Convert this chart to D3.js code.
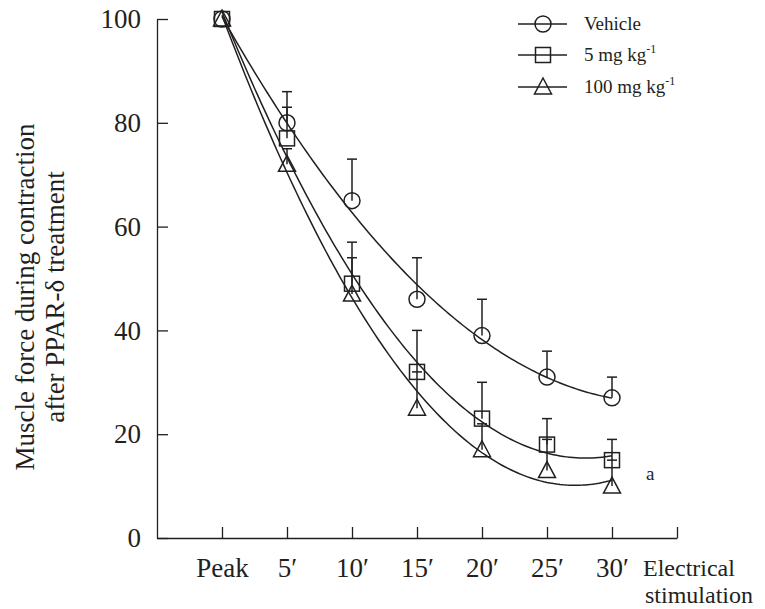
<!DOCTYPE html>
<html>
<head>
<meta charset="utf-8">
<script src="https://cdn.jsdelivr.net/npm/d3@7"></script>
<style>
  html, body { margin: 0; padding: 0; background: #fff; }
  svg { display: block; }
  text { font-family: "Liberation Serif", "DejaVu Serif", serif; fill: #231f20; }
</style>
</head>
<body>
<svg id="chart" width="765" height="609"></svg>
<script>
// ---- data ----
const categories = ["Peak", "5′", "10′", "15′", "20′", "25′", "30′"];
const vehicle      = [100, 80, 65, 46, 39, 31, 27];
const vehicleErr   = [0, 6, 8, 8, 7, 5, 4];
const dose5        = [100, 77, 49, 32, 23, 18, 15];
const dose5Err     = [0, 6, 8, 8, 7, 5, 4];
const dose100      = [100, 72, 47, 25, 17, 13, 10];
const dose100Err   = [0, 3, 7, 7, 5, 6, 5];
const yTicks = [0, 20, 40, 60, 80, 100];
const seriesNames = ["Vehicle", "5 mg kg", "100 mg kg"];

const ink = "#231f20";
const svg = d3.select("#chart");

const x = d3.scaleLinear().domain([0, 8]).range([157, 677]);
const y = d3.scaleLinear().domain([0, 100]).range([538, 19]);

// ---- axes ----
const yAxis = d3.axisLeft(y).tickValues(yTicks).tickSize(-11).tickSizeOuter(0).tickPadding(16);
const gy = svg.append("g").attr("transform", `translate(${x(0)},0)`).call(yAxis);
gy.selectAll("text").style("font-size", "27px").attr("fill", ink);

const xTickVals = d3.range(1, 9);
const xAxis = d3.axisBottom(x).tickValues(xTickVals).tickSize(-11).tickSizeOuter(0).tickPadding(20)
  .tickFormat(d => categories[d - 1] || "");
const gx = svg.append("g").attr("transform", `translate(0,${y(0)})`).call(xAxis);
gx.selectAll("text").style("font-size", "27px").attr("fill", ink);

[gx, gy].forEach(g => {
  g.select(".domain").attr("stroke", ink).attr("stroke-width", 1.3);
  g.selectAll(".tick line").attr("stroke", ink).attr("stroke-width", 1.3);
});

svg.append("text").attr("x", 643).attr("y", 576).style("font-size", "24px").text("Electrical");
svg.append("text").attr("x", 753).attr("y", 603).attr("text-anchor", "end").style("font-size", "24px").text("stimulation");

// y title
const yt = svg.append("g").attr("transform", "translate(0,297) rotate(-90)");
yt.append("text").attr("x", 0).attr("y", 25).attr("dy", "0.35em").attr("text-anchor", "middle")
  .style("font-size", "27px").text("Muscle force during contraction");
yt.append("text").attr("x", 0).attr("y", 55).attr("dy", "0.35em").attr("text-anchor", "middle")
  .style("font-size", "27px").text("after PPAR-δ treatment");

// ---- quadratic least squares fit ----
function quadFit(vals) {
  const xs = vals.map((v, i) => i + 1);
  let S = [0,0,0,0,0], T = [0,0,0];
  xs.forEach((xi, i) => {
    for (let k = 0; k < 5; k++) S[k] += Math.pow(xi, k);
    for (let k = 0; k < 3; k++) T[k] += Math.pow(xi, k) * vals[i];
  });
  const A = [[S[0],S[1],S[2],T[0]],[S[1],S[2],S[3],T[1]],[S[2],S[3],S[4],T[2]]];
  for (let i = 0; i < 3; i++) {
    for (let j = i + 1; j < 3; j++) {
      const f = A[j][i] / A[i][i];
      for (let k = i; k < 4; k++) A[j][k] -= f * A[i][k];
    }
  }
  const c = [0,0,0];
  for (let i = 2; i >= 0; i--) {
    let s = A[i][3];
    for (let k = i + 1; k < 3; k++) s -= A[i][k] * c[k];
    c[i] = s / A[i][i];
  }
  return t => c[0] + c[1] * t + c[2] * t * t;
}

const series = [
  { vals: vehicle, err: vehicleErr, shape: "circle" },
  { vals: dose5, err: dose5Err, shape: "square" },
  { vals: dose100, err: dose100Err, shape: "triangle" }
];

const line = d3.line().x(d => x(d[0])).y(d => y(d[1]));

series.forEach(s => {
  const f = quadFit(s.vals);
  const pts = d3.range(1, 7.001, 0.05).map(t => [t, f(t)]);
  svg.append("path").attr("d", line(pts)).attr("fill", "none").attr("stroke", ink).attr("stroke-width", 1.5);
});

// error bars
series.forEach(s => {
  const g = svg.append("g").attr("stroke", ink).attr("stroke-width", 1.5);
  s.vals.forEach((v, i) => {
    if (!s.err[i]) return;
    const cx = x(i + 1);
    g.append("line").attr("x1", cx).attr("x2", cx).attr("y1", y(v)).attr("y2", y(v + s.err[i]));
    g.append("line").attr("x1", cx - 5).attr("x2", cx + 5).attr("y1", y(v + s.err[i])).attr("y2", y(v + s.err[i]));
  });
});

function drawMarker(g, shape, cx, cy) {
  if (shape === "circle") {
    g.append("circle").attr("cx", cx).attr("cy", cy).attr("r", 8);
  } else if (shape === "square") {
    g.append("rect").attr("x", cx - 7.5).attr("y", cy - 7.5).attr("width", 15).attr("height", 15);
  } else {
    g.append("path").attr("d", `M${cx},${cy - 9}L${cx + 8.5},${cy + 7}L${cx - 8.5},${cy + 7}Z`);
  }
}

series.forEach(s => {
  const g = svg.append("g").attr("fill", "none").attr("stroke", ink).attr("stroke-width", 1.5);
  s.vals.forEach((v, i) => drawMarker(g, s.shape, x(i + 1), y(v)));
});

// legend
const legendY = [24, 55, 87];
series.forEach((s, i) => {
  const g = svg.append("g").attr("fill", "none").attr("stroke", ink).attr("stroke-width", 1.5);
  g.append("line").attr("x1", 518).attr("x2", 567).attr("y1", legendY[i]).attr("y2", legendY[i]);
  drawMarker(g, s.shape, 543, legendY[i]);
  const t = svg.append("text").attr("x", 584).attr("y", legendY[i] + 6).style("font-size", "19px").text(seriesNames[i]);
  if (i > 0) t.append("tspan").attr("dy", -8).style("font-size", "12px").text("-1");
});

svg.append("text").attr("x", 646).attr("y", 480).style("font-size", "19px").text("a");
</script>
</body>
</html>
